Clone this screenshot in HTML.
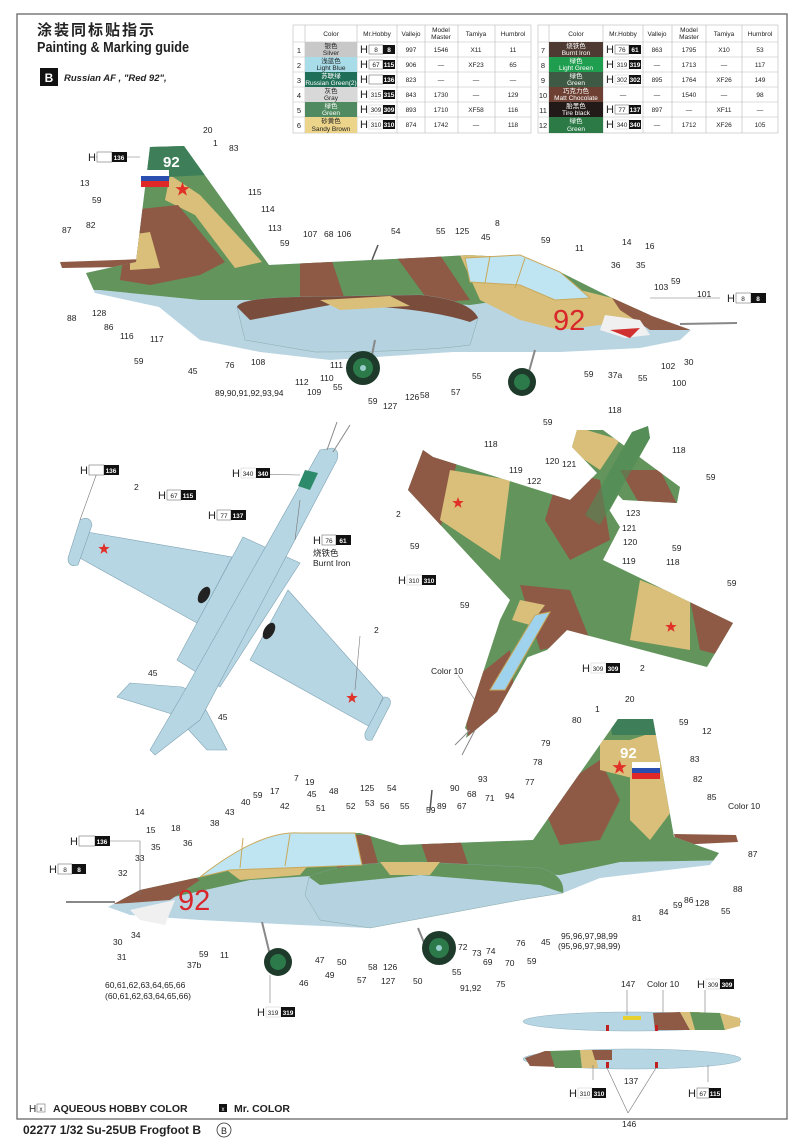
<!DOCTYPE html>
<html><head><meta charset="utf-8"><style>
html,body{margin:0;padding:0;background:#fff}
svg{display:block}
text{font-family:"Liberation Sans","Noto Sans CJK SC",sans-serif;fill:#222}
.l{font-size:8.5px}
.t{font-size:6.5px;text-anchor:middle}
.ln{stroke:#777;stroke-width:.6;fill:none}
.hb{font-size:11px}
.bx{font-size:6.5px;text-anchor:middle}
.bw{font-size:6.5px;text-anchor:middle;fill:#fff;font-weight:bold}
</style></head><body>
<svg width="800" height="1144" viewBox="0 0 800 1144" xmlns="http://www.w3.org/2000/svg">
<defs>
<symbol id="star" viewBox="-1 -1 2 2"><polygon points="0,-1 .235,-.324 .951,-.309 .38,.124 .588,.809 0,.4 -.588,.809 -.38,.124 -.951,-.309 -.235,-.324" fill="#e03028"/></symbol>
<clipPath id="c1"><path d="M150,147 L184,146 L269,265 L434,257 L469,255 L520,258 L560,272 L610,297 L652,316 L691,330 L680,340 L640,348 L560,352 L453,352 L330,360 L260,352 L200,340 L159,307 L95,293 L86,273 L136,262 Z"/></clipPath>
<clipPath id="c2"><path d="M618,719 L653,719 L674,837 L719,853 L710,865 L600,878 L563,893 L500,900 L370,928 L300,925 L200,920 L130,915 L108,907 L140,890 L200,877 L250,848 L300,833 L360,833 L400,845 L533,840 Z"/></clipPath>
<clipPath id="c3"><path d="M423,450 L433,457 L570,500 L640,430 L647,428 L640,445 L603,500 L620,527 L603,560 L733,623 L707,667 L567,630 L547,650 L520,660 L470,733 L465,728 L500,620 L510,600 L408,490 Z M577,430 L603,430 L680,487 L677,503 L623,500 L572,447 Z M466,738 L475,700 L632,432 L648,426 L650,438 L497,712 Z"/></clipPath>
</defs>

<rect x="17" y="14" width="770" height="1105" fill="none" stroke="#666" stroke-width="1.3"/>

<text x="37" y="35" style="font-size:15px;font-weight:bold;letter-spacing:2px">涂装同标贴指示</text>
<text x="37" y="52" style="font-size:15px;font-weight:bold" textLength="152" lengthAdjust="spacingAndGlyphs">Painting &amp; Marking guide</text>
<rect x="40" y="68" width="18" height="18" fill="#111"/>
<text x="49" y="82" style="font-size:12px;font-weight:bold;fill:#fff;text-anchor:middle">B</text>
<text x="64" y="81" style="font-size:9.5px;font-weight:bold;font-style:italic">Russian AF , "Red 92",</text>

<g stroke="#bbb" stroke-width=".6" fill="none">
<rect x="293" y="25" width="238" height="108"/>
<line x1="293" y1="42" x2="531" y2="42"/><line x1="293" y1="57" x2="531" y2="57"/><line x1="293" y1="72" x2="531" y2="72"/><line x1="293" y1="87" x2="531" y2="87"/><line x1="293" y1="102" x2="531" y2="102"/><line x1="293" y1="117" x2="531" y2="117"/>
<line x1="305" y1="25" x2="305" y2="133"/><line x1="357" y1="25" x2="357" y2="133"/><line x1="397" y1="25" x2="397" y2="133"/><line x1="425" y1="25" x2="425" y2="133"/><line x1="458" y1="25" x2="458" y2="133"/><line x1="495" y1="25" x2="495" y2="133"/>
<rect x="538" y="25" width="240" height="108"/>
<line x1="538" y1="42" x2="778" y2="42"/><line x1="538" y1="57" x2="778" y2="57"/><line x1="538" y1="72" x2="778" y2="72"/><line x1="538" y1="87" x2="778" y2="87"/><line x1="538" y1="102" x2="778" y2="102"/><line x1="538" y1="117" x2="778" y2="117"/>
<line x1="549" y1="25" x2="549" y2="133"/><line x1="603" y1="25" x2="603" y2="133"/><line x1="643" y1="25" x2="643" y2="133"/><line x1="672" y1="25" x2="672" y2="133"/><line x1="706" y1="25" x2="706" y2="133"/><line x1="742" y1="25" x2="742" y2="133"/>
</g>
<rect x="305" y="42" width="52" height="15" fill="#c8c8c8"/>
<rect x="305" y="57" width="52" height="15" fill="#a8dce8"/>
<rect x="305" y="72" width="52" height="15" fill="#1f6e57"/>
<rect x="305" y="87" width="52" height="15" fill="#d8d8d8"/>
<rect x="305" y="102" width="52" height="15" fill="#4f8a60"/>
<rect x="305" y="117" width="52" height="16" fill="#ecd48a"/>
<rect x="549" y="42" width="54" height="15" fill="#4e3a32"/>
<rect x="549" y="57" width="54" height="15" fill="#1e9e4e"/>
<rect x="549" y="72" width="54" height="15" fill="#3f5a44"/>
<rect x="549" y="87" width="54" height="15" fill="#6e4033"/>
<rect x="549" y="102" width="54" height="15" fill="#221a18"/>
<rect x="549" y="117" width="54" height="16" fill="#2c7a46"/>
<g class="t">
<text x="331" y="36">Color</text><text x="377" y="36">Mr.Hobby</text><text x="411" y="36">Vallejo</text><text x="441" y="32">Model</text><text x="441" y="39">Master</text><text x="476" y="36">Tamiya</text><text x="513" y="36">Humbrol</text>
<text x="576" y="36">Color</text><text x="623" y="36">Mr.Hobby</text><text x="657" y="36">Vallejo</text><text x="689" y="32">Model</text><text x="689" y="39">Master</text><text x="724" y="36">Tamiya</text><text x="760" y="36">Humbrol</text>
</g>
<g style="font-size:7.5px;text-anchor:middle">
<text x="299" y="53">1</text><text x="299" y="68">2</text><text x="299" y="83">3</text><text x="299" y="98">4</text><text x="299" y="113">5</text><text x="299" y="128">6</text>
<text x="543" y="53">7</text><text x="543" y="68">8</text><text x="543" y="83">9</text><text x="543" y="98">10</text><text x="543" y="113">11</text><text x="543" y="128">12</text>
</g>
<g class="t">
<text x="331" y="48">银色</text><text x="331" y="55">Silver</text>
<text x="331" y="63">浅蓝色</text><text x="331" y="70">Light Blue</text>
<text x="331" y="78" style="fill:#fff">苏联绿</text><text x="331" y="85" style="fill:#fff">Russian Green(2)</text>
<text x="331" y="93">灰色</text><text x="331" y="100">Gray</text>
<text x="331" y="108" style="fill:#fff">绿色</text><text x="331" y="115" style="fill:#fff">Green</text>
<text x="331" y="123">砂黄色</text><text x="331" y="131">Sandy Brown</text>
<text x="576" y="48" style="fill:#fff">烧铁色</text><text x="576" y="55" style="fill:#fff">Burnt Iron</text>
<text x="576" y="63" style="fill:#fff">绿色</text><text x="576" y="70" style="fill:#fff">Light Green</text>
<text x="576" y="78" style="fill:#fff">绿色</text><text x="576" y="85" style="fill:#fff">Green</text>
<text x="576" y="93" style="fill:#fff">巧克力色</text><text x="576" y="100" style="fill:#fff">Matt Chocolate</text>
<text x="576" y="108" style="fill:#fff">胎黑色</text><text x="576" y="115" style="fill:#fff">Tire black</text>
<text x="576" y="123" style="fill:#fff">绿色</text><text x="576" y="131" style="fill:#fff">Green</text>
<text x="411" y="52">997</text><text x="441" y="52">1546</text><text x="476" y="52">X11</text><text x="513" y="52">11</text>
<text x="411" y="67">906</text><text x="441" y="67">—</text><text x="476" y="67">XF23</text><text x="513" y="67">65</text>
<text x="411" y="82">823</text><text x="441" y="82">—</text><text x="476" y="82">—</text><text x="513" y="82">—</text>
<text x="411" y="97">843</text><text x="441" y="97">1730</text><text x="476" y="97">—</text><text x="513" y="97">129</text>
<text x="411" y="112">893</text><text x="441" y="112">1710</text><text x="476" y="112">XF58</text><text x="513" y="112">116</text>
<text x="411" y="127">874</text><text x="441" y="127">1742</text><text x="476" y="127">—</text><text x="513" y="127">118</text>
<text x="657" y="52">863</text><text x="689" y="52">1795</text><text x="724" y="52">X10</text><text x="760" y="52">53</text>
<text x="657" y="67">—</text><text x="689" y="67">1713</text><text x="724" y="67">—</text><text x="760" y="67">117</text>
<text x="657" y="82">895</text><text x="689" y="82">1764</text><text x="724" y="82">XF26</text><text x="760" y="82">149</text>
<text x="657" y="97">—</text><text x="689" y="97">1540</text><text x="724" y="97">—</text><text x="760" y="97">98</text>
<text x="657" y="112">897</text><text x="689" y="112">—</text><text x="724" y="112">XF11</text><text x="760" y="112">—</text>
<text x="657" y="127">—</text><text x="689" y="127">1712</text><text x="724" y="127">XF26</text><text x="760" y="127">105</text>
<text x="623" y="97">—</text>
</g>
<g>
<text x="360" y="53" class="hb">H</text><rect x="369" y="45" width="14" height="9" fill="#fff" stroke="#555" stroke-width=".5"/><text x="376" y="52" class="bx">8</text><rect x="383" y="45" width="12" height="9" fill="#111"/><text x="389" y="52" class="bw">8</text>
<text x="360" y="68" class="hb">H</text><rect x="369" y="60" width="14" height="9" fill="#fff" stroke="#555" stroke-width=".5"/><text x="376" y="67" class="bx">67</text><rect x="383" y="60" width="12" height="9" fill="#111"/><text x="389" y="67" class="bw">115</text>
<text x="360" y="83" class="hb">H</text><rect x="369" y="75" width="14" height="9" fill="#fff" stroke="#555" stroke-width=".5"/><rect x="383" y="75" width="12" height="9" fill="#111"/><text x="389" y="82" class="bw">136</text>
<text x="360" y="98" class="hb">H</text><rect x="369" y="90" width="14" height="9" fill="#fff" stroke="#ccc" stroke-width=".5"/><text x="376" y="97" class="bx">315</text><rect x="383" y="90" width="12" height="9" fill="#111"/><text x="389" y="97" class="bw">315</text>
<text x="360" y="113" class="hb">H</text><rect x="369" y="105" width="14" height="9" fill="#fff" stroke="#ccc" stroke-width=".5"/><text x="376" y="112" class="bx">309</text><rect x="383" y="105" width="12" height="9" fill="#111"/><text x="389" y="112" class="bw">309</text>
<text x="360" y="128" class="hb">H</text><rect x="369" y="120" width="14" height="9" fill="#fff" stroke="#ccc" stroke-width=".5"/><text x="376" y="127" class="bx">310</text><rect x="383" y="120" width="12" height="9" fill="#111"/><text x="389" y="127" class="bw">310</text>
<text x="606" y="53" class="hb">H</text><rect x="615" y="45" width="14" height="9" fill="#fff" stroke="#555" stroke-width=".5"/><text x="622" y="52" class="bx">76</text><rect x="629" y="45" width="12" height="9" fill="#111"/><text x="635" y="52" class="bw">61</text>
<text x="606" y="68" class="hb">H</text><rect x="615" y="60" width="14" height="9" fill="#fff" stroke="#ccc" stroke-width=".5"/><text x="622" y="67" class="bx">319</text><rect x="629" y="60" width="12" height="9" fill="#111"/><text x="635" y="67" class="bw">319</text>
<text x="606" y="83" class="hb">H</text><rect x="615" y="75" width="14" height="9" fill="#fff" stroke="#ccc" stroke-width=".5"/><text x="622" y="82" class="bx">302</text><rect x="629" y="75" width="12" height="9" fill="#111"/><text x="635" y="82" class="bw">302</text>
<text x="606" y="113" class="hb">H</text><rect x="615" y="105" width="14" height="9" fill="#fff" stroke="#555" stroke-width=".5"/><text x="622" y="112" class="bx">77</text><rect x="629" y="105" width="12" height="9" fill="#111"/><text x="635" y="112" class="bw">137</text>
<text x="606" y="128" class="hb">H</text><rect x="615" y="120" width="14" height="9" fill="#fff" stroke="#ccc" stroke-width=".5"/><text x="622" y="127" class="bx">340</text><rect x="629" y="120" width="12" height="9" fill="#111"/><text x="635" y="127" class="bw">340</text>
</g>

<!-- ============ TOP SIDE VIEW ============ -->
<line x1="680" y1="324" x2="737" y2="323" stroke="#888" stroke-width="2"/>
<path d="M60,262 L175,258 L180,266 L62,268 Z" fill="#8e5a46"/>
<g clip-path="url(#c1)">
<rect x="60" y="140" width="700" height="240" fill="#b9d5e2"/>
<path d="M60,140 L760,140 L760,300 L650,315 L600,300 L520,298 L470,305 L400,300 L300,305 L250,300 L200,300 L150,295 L100,290 L60,290 Z" fill="#62945c"/>
<path d="M170,175 L200,195 L262,262 L235,268 L195,215 L165,200 Z" fill="#d9bf79"/>
<path d="M130,210 L178,205 L225,262 L200,275 L150,285 L120,280 Z" fill="#8e5a46"/>
<path d="M130,235 L150,232 L160,268 L130,270 Z" fill="#d9bf79"/>
<path d="M300,255 L330,255 L345,300 L300,305 Z" fill="#8e5a46"/>
<path d="M395,255 L440,255 L470,300 L430,303 Z" fill="#8e5a46"/>
<path d="M460,255 L520,255 L580,290 L640,305 L640,320 L560,330 L520,320 L480,300 Z" fill="#d9bf79"/>
<path d="M600,280 L660,310 L690,330 L650,330 L620,310 Z" fill="#8e5a46"/>
<path d="M140,145 L190,145 L205,175 L150,178 Z" fill="#3e7f5a"/>
</g>
<path d="M237,307 Q240,298 300,297 L420,295 Q470,300 478,318 L470,345 Q420,352 315,352 L245,340 Z" fill="#b5d2e0" stroke="#8aa" stroke-width=".5"/>
<path d="M237,307 Q240,298 300,297 L420,295 Q470,300 478,318 L470,322 Q420,306 330,305 L250,320 Z" fill="#7a4c3c"/>
<path d="M320,300 L390,296 L410,306 L340,310 Z" fill="#d9bf79"/>
<path d="M465,258 L520,255 L560,272 L590,298 L555,300 L520,285 L470,282 Z" fill="#bfe4f2" stroke="#c9a95a" stroke-width="1"/>
<line x1="490" y1="256" x2="485" y2="283" stroke="#c9a95a"/><line x1="525" y1="258" x2="515" y2="288" stroke="#c9a95a"/>
<line x1="372" y1="260" x2="378" y2="245" stroke="#555" stroke-width="1.5"/>
<text x="553" y="330" style="font-size:29px;fill:#d8262a">92</text>
<text x="163" y="167" style="font-size:15px;fill:#fff;font-weight:bold">92</text>
<rect x="141" y="170" width="28" height="6" fill="#fff"/><rect x="141" y="176" width="28" height="5" fill="#2a4db0"/><rect x="141" y="181" width="28" height="6" fill="#e02828"/>
<use href="#star" x="175" y="182" width="15" height="15"/>
<path d="M605,315 L640,320 L650,335 L625,338 L600,330 Z" fill="#f0f0f0"/><path d="M610,330 L640,328 L630,338 Z" fill="#d03030"/>
<line x1="375" y1="340" x2="370" y2="365" stroke="#888" stroke-width="2"/>
<circle cx="363" cy="368" r="17" fill="#1d3a2a"/><circle cx="363" cy="368" r="10" fill="#2c7a4a"/><circle cx="363" cy="368" r="3" fill="#9cc"/>
<line x1="535" y1="350" x2="528" y2="375" stroke="#888" stroke-width="2"/>
<circle cx="522" cy="382" r="14" fill="#1d3a2a"/><circle cx="522" cy="382" r="8" fill="#2c7a4a"/>

<!-- ============ PLAN (LOWER) VIEW ============ -->
<g fill="#b7d6e3" stroke="#7fa3b4" stroke-width=".6">
<path d="M87,532 L232,557 L197,623 L78,557 Z"/>
<path d="M288,590 L383,697 L370,727 L250,660 Z"/>
<path d="M117,697 L130,683 L182,687 L197,693 L227,750 L207,750 L175,715 Z"/>
<path d="M243,537 L300,563 L220,687 L177,660 Z"/>
<path d="M332,448 Q340,450 337,460 L200,720 L155,755 L150,750 L185,690 L320,450 Z"/>
<path d="M80,520 Q90,515 92,525 L78,565 Q68,568 68,558 Z"/>
<path d="M384,697 Q392,697 390,705 L372,740 Q364,742 365,733 Z"/>
</g>
<line x1="327" y1="450" x2="337" y2="422" stroke="#888"/><line x1="333" y1="452" x2="350" y2="425" stroke="#888"/>
<path d="M305,470 L318,473 L310,490 L298,486 Z" fill="#2d8a6a"/>
<ellipse cx="204" cy="595" rx="5" ry="9" transform="rotate(30 204 595)" fill="#222"/>
<ellipse cx="269" cy="631" rx="5" ry="9" transform="rotate(30 269 631)" fill="#222"/>
<use href="#star" x="98" y="543" width="12" height="12"/>
<use href="#star" x="346" y="692" width="12" height="12"/>

<!-- ============ TOP VIEW (RIGHT) ============ -->
<g clip-path="url(#c3)">
<rect x="400" y="420" width="340" height="320" fill="#62945c"/>
<path d="M400,440 L460,450 L440,530 L400,520 Z" fill="#8e5a46"/>
<path d="M450,470 L510,480 L500,560 L440,520 Z" fill="#d9bf79"/>
<path d="M570,425 L620,440 L600,470 L570,450 Z" fill="#d9bf79"/>
<path d="M620,470 L660,470 L680,510 L640,505 Z" fill="#8e5a46"/>
<path d="M560,470 L600,480 L610,540 L570,560 L545,520 Z" fill="#8e5a46"/>
<path d="M520,585 L570,590 L590,640 L540,650 Z" fill="#8e5a46"/>
<path d="M640,580 L690,600 L690,650 L630,640 Z" fill="#d9bf79"/>
<path d="M690,600 L740,610 L740,660 L700,650 Z" fill="#8e5a46"/>
<path d="M460,690 L510,650 L515,700 L470,745 Z" fill="#8e5a46"/>
<path d="M520,600 L545,605 L530,625 L512,620 Z" fill="#d9bf79"/>
</g>
<path d="M632,432 L648,426 L650,438 L600,525 L585,515 Z" fill="#4e8a55" opacity=".6"/>
<path d="M535,615 L550,612 L505,690 L490,690 Z" fill="#9fd2ec" stroke="#c9a95a"/>
<line x1="475" y1="730" x2="462" y2="755" stroke="#888"/><line x1="470" y1="730" x2="455" y2="745" stroke="#888"/>
<use href="#star" x="452" y="497" width="12" height="12"/>
<use href="#star" x="665" y="621" width="12" height="12"/>

<!-- ============ BOTTOM SIDE VIEW ============ -->
<line x1="66" y1="902" x2="115" y2="902" stroke="#888" stroke-width="2"/>
<path d="M674,834 L736,835 L738,842 L676,845 Z" fill="#8e5a46"/>
<g clip-path="url(#c2)">
<rect x="100" y="710" width="640" height="230" fill="#b9d5e2"/>
<path d="M100,710 L740,710 L740,860 L620,862 L560,875 L400,870 L250,880 L160,900 L100,900 Z" fill="#62945c"/>
<path d="M100,860 L200,850 L240,880 L300,875 L330,840 L200,840 Z" fill="#d9bf79"/>
<path d="M100,880 L160,860 L200,880 L170,900 L100,905 Z" fill="#8e5a46"/>
<path d="M330,835 L370,835 L380,870 L340,880 Z" fill="#8e5a46"/>
<path d="M420,840 L460,840 L470,870 L430,870 Z" fill="#8e5a46"/>
<path d="M540,800 L600,760 L620,800 L600,840 L560,845 Z" fill="#8e5a46"/>
<path d="M630,740 L660,730 L680,800 L650,840 L630,820 Z" fill="#d9bf79"/>
<path d="M600,740 L650,740 L640,780 L600,770 Z" fill="#d9bf79"/>
<path d="M610,719 L660,719 L660,735 L612,735 Z" fill="#3e7f5a"/>
</g>
<path d="M309,877 Q340,862 420,862 L540,868 Q565,875 563,893 L520,900 L370,928 L320,920 L305,895 Z" fill="#b5d2e0" stroke="#8aa" stroke-width=".5"/>
<path d="M309,877 Q340,862 420,862 L540,868 Q565,875 563,893 L540,885 L420,875 L320,885 Z" fill="#62945c"/>
<path d="M380,862 L440,862 L430,875 L390,875 Z" fill="#d9bf79"/>
<path d="M200,877 Q260,830 300,833 L355,833 L362,865 L230,870 Z" fill="#bfe4f2" stroke="#c9a95a"/>
<line x1="243" y1="838" x2="240" y2="868" stroke="#c9a95a"/><line x1="290" y1="834" x2="285" y2="866" stroke="#c9a95a"/>
<text x="178" y="910" style="font-size:29px;fill:#d8262a">92</text>
<text x="620" y="758" style="font-size:15px;fill:#fff;font-weight:bold">92</text>
<rect x="632" y="762" width="28" height="6" fill="#fff"/><rect x="632" y="768" width="28" height="5" fill="#2a4db0"/><rect x="632" y="773" width="28" height="6" fill="#e02828"/>
<use href="#star" x="612" y="760" width="15" height="15"/>
<path d="M130,910 L175,900 L165,925 L140,920 Z" fill="#f0f0f0"/>
<line x1="430" y1="810" x2="432" y2="790" stroke="#555" stroke-width="1.5"/>
<line x1="418" y1="928" x2="425" y2="945" stroke="#888" stroke-width="2"/>
<circle cx="439" cy="948" r="17" fill="#1d3a2a"/><circle cx="439" cy="948" r="10" fill="#2c7a4a"/><circle cx="439" cy="948" r="3" fill="#9cc"/>
<line x1="262" y1="922" x2="270" y2="955" stroke="#888" stroke-width="2"/>
<circle cx="278" cy="962" r="14" fill="#1d3a2a"/><circle cx="278" cy="962" r="8" fill="#2c7a4a"/>

<!-- drop tanks -->
<ellipse cx="632" cy="1021.5" rx="109" ry="9.5" fill="#b7d6e3" stroke="#8fb0c0" stroke-width=".5"/>
<path d="M653,1013 L680,1012 L690,1030 L655,1030 Z" fill="#8e5a46"/><path d="M680,1012 L700,1012 L700,1030 L690,1030 Z" fill="#d9bf79"/><path d="M690,1012 L720,1013 L725,1030 L695,1030 Z" fill="#62945c"/><path d="M720,1013 L740,1018 L740,1026 L725,1030 Z" fill="#d9bf79"/>
<rect x="623" y="1016" width="18" height="4" fill="#e8d030"/>
<rect x="606" y="1025" width="3" height="6" fill="#c02020"/><rect x="655" y="1025" width="3" height="6" fill="#c02020"/>
<ellipse cx="632" cy="1059" rx="109" ry="10" fill="#b7d6e3" stroke="#8fb0c0" stroke-width=".5"/>
<path d="M525,1058 L545,1051 L555,1051 L560,1067 L530,1066 Z" fill="#8e5a46"/><path d="M550,1051 L580,1050 L582,1068 L555,1068 Z" fill="#62945c"/><path d="M580,1050 L595,1050 L598,1068 L582,1068 Z" fill="#d9bf79"/><path d="M592,1050 L612,1050 L612,1060 L595,1060 Z" fill="#8e5a46"/>
<rect x="606" y="1062" width="3" height="6" fill="#c02020"/><rect x="655" y="1062" width="3" height="6" fill="#c02020"/>

<g class="ln">
<line x1="96" y1="157" x2="140" y2="157"/><line x1="650" y1="298" x2="720" y2="298"/>
<line x1="98" y1="470" x2="80" y2="520"/><line x1="246" y1="474" x2="300" y2="475"/><line x1="300" y1="500" x2="295" y2="540"/>
<line x1="360" y1="636" x2="355" y2="690"/><line x1="458" y1="675" x2="475" y2="700"/>
<line x1="92" y1="841" x2="140" y2="841"/><line x1="140" y1="841" x2="140" y2="895"/>
<line x1="270" y1="1003" x2="270" y2="975"/>
<line x1="627" y1="990" x2="627" y2="1015"/><line x1="663" y1="990" x2="663" y2="1013"/><line x1="705" y1="990" x2="705" y2="1013"/>
<line x1="593" y1="1080" x2="593" y2="1065"/><line x1="628" y1="1113" x2="607" y2="1068"/><line x1="628" y1="1113" x2="656" y2="1068"/><line x1="708" y1="1082" x2="708" y2="1065"/>
</g>

<g class="l">
<text x="203" y="133">20</text><text x="213" y="146">1</text><text x="229" y="151">83</text><text x="80" y="186">13</text><text x="92" y="203">59</text>
<text x="248" y="195">115</text><text x="261" y="212">114</text><text x="268" y="231">113</text><text x="62" y="233">87</text><text x="86" y="228">82</text>
<text x="280" y="246">59</text><text x="303" y="237">107</text><text x="324" y="237">68</text><text x="337" y="237">106</text><text x="391" y="234">54</text>
<text x="436" y="234">55</text><text x="455" y="234">125</text><text x="481" y="240">45</text><text x="495" y="226">8</text><text x="541" y="243">59</text>
<text x="575" y="251">11</text><text x="622" y="245">14</text><text x="645" y="249">16</text><text x="611" y="268">36</text><text x="636" y="268">35</text>
<text x="654" y="290">103</text><text x="671" y="284">59</text><text x="697" y="297">101</text>
<text x="67" y="321">88</text><text x="92" y="316">128</text><text x="104" y="330">86</text><text x="120" y="339">116</text><text x="150" y="342">117</text>
<text x="134" y="364">59</text><text x="188" y="374">45</text><text x="225" y="368">76</text><text x="251" y="365">108</text><text x="330" y="368">111</text>
<text x="320" y="381">110</text><text x="333" y="390">55</text><text x="295" y="385">112</text><text x="307" y="395">109</text><text x="215" y="396">89,90,91,92,93,94</text>
<text x="368" y="404">59</text><text x="383" y="409">127</text><text x="405" y="400">126</text><text x="420" y="398">58</text><text x="451" y="395">57</text>
<text x="472" y="379">55</text><text x="584" y="377">59</text><text x="608" y="378">37a</text><text x="638" y="381">55</text><text x="661" y="369">102</text><text x="684" y="365">30</text><text x="672" y="386">100</text>
</g>
<g class="l">
<text x="134" y="490">2</text><text x="374" y="633">2</text><text x="148" y="676">45</text><text x="218" y="720">45</text>
<text x="313" y="556">烧铁色</text><text x="313" y="566">Burnt Iron</text>
<text x="608" y="413">118</text><text x="543" y="425">59</text><text x="484" y="447">118</text><text x="672" y="453">118</text><text x="509" y="473">119</text>
<text x="545" y="464">120</text><text x="562" y="467">121</text><text x="527" y="484">122</text><text x="706" y="480">59</text><text x="396" y="517">2</text>
<text x="626" y="516">123</text><text x="622" y="531">121</text><text x="623" y="545">120</text><text x="410" y="549">59</text><text x="622" y="564">119</text>
<text x="672" y="551">59</text><text x="666" y="565">118</text><text x="727" y="586">59</text><text x="460" y="608">59</text><text x="640" y="671">2</text>
<text x="431" y="674">Color 10</text>
</g>
<g class="l">
<text x="625" y="702">20</text><text x="595" y="712">1</text><text x="679" y="725">59</text><text x="572" y="723">80</text><text x="702" y="734">12</text>
<text x="541" y="746">79</text><text x="533" y="765">78</text><text x="690" y="762">83</text><text x="693" y="782">82</text><text x="707" y="800">85</text>
<text x="728" y="809">Color 10</text><text x="748" y="857">87</text><text x="733" y="892">88</text><text x="721" y="914">55</text><text x="695" y="906">128</text>
<text x="684" y="903">86</text><text x="673" y="908">59</text><text x="659" y="915">84</text><text x="632" y="921">81</text><text x="525" y="785">77</text>
<text x="505" y="799">94</text><text x="294" y="781">7</text><text x="305" y="785">19</text><text x="329" y="794">48</text><text x="360" y="791">125</text>
<text x="387" y="791">54</text><text x="307" y="797">45</text><text x="316" y="811">51</text><text x="346" y="809">52</text><text x="365" y="806">53</text>
<text x="380" y="809">56</text><text x="400" y="809">55</text><text x="426" y="813">59</text><text x="437" y="809">89</text><text x="457" y="809">67</text>
<text x="450" y="791">90</text><text x="467" y="797">68</text><text x="478" y="782">93</text><text x="485" y="801">71</text><text x="270" y="794">17</text>
<text x="253" y="798">59</text><text x="241" y="805">40</text><text x="280" y="809">42</text><text x="225" y="815">43</text><text x="210" y="826">38</text>
<text x="135" y="815">14</text><text x="171" y="831">18</text><text x="146" y="833">15</text><text x="151" y="850">35</text><text x="183" y="846">36</text>
<text x="135" y="861">33</text><text x="118" y="876">32</text>
<text x="113" y="945">30</text><text x="131" y="938">34</text><text x="117" y="960">31</text><text x="199" y="957">59</text><text x="187" y="968">37b</text>
<text x="220" y="958">11</text><text x="105" y="988">60,61,62,63,64,65,66</text><text x="105" y="999">(60,61,62,63,64,65,66)</text>
<text x="299" y="986">46</text><text x="315" y="963">47</text><text x="325" y="978">49</text><text x="337" y="965">50</text><text x="357" y="983">57</text>
<text x="368" y="970">58</text><text x="383" y="970">126</text><text x="381" y="984">127</text><text x="413" y="984">50</text><text x="452" y="975">55</text>
<text x="458" y="950">72</text><text x="472" y="956">73</text><text x="486" y="954">74</text><text x="483" y="965">69</text><text x="505" y="966">70</text>
<text x="496" y="987">75</text><text x="516" y="946">76</text><text x="527" y="964">59</text><text x="541" y="945">45</text><text x="460" y="991">91,92</text>
<text x="561" y="939">95,96,97,98,99</text><text x="558" y="949">(95,96,97,98,99)</text>
<text x="621" y="987">147</text><text x="647" y="987">Color 10</text><text x="622" y="1127">146</text><text x="624" y="1084">137</text>
</g>

<g>
<text x="88" y="161" class="hb">H</text><rect x="97" y="152" width="15" height="10" fill="#fff" stroke="#555" stroke-width=".5"/><rect x="112" y="152" width="15" height="10" fill="#111"/><text x="119" y="160" class="bw">136</text>
<text x="727" y="302" class="hb">H</text><rect x="736" y="293" width="15" height="10" fill="#fff" stroke="#555" stroke-width=".5"/><text x="743" y="301" class="bx">8</text><rect x="751" y="293" width="15" height="10" fill="#111"/><text x="758" y="301" class="bw">8</text>
<text x="80" y="474" class="hb">H</text><rect x="89" y="465" width="15" height="10" fill="#fff" stroke="#555" stroke-width=".5"/><rect x="104" y="465" width="15" height="10" fill="#111"/><text x="111" y="473" class="bw">136</text>
<text x="158" y="499" class="hb">H</text><rect x="167" y="490" width="14" height="10" fill="#fff" stroke="#555" stroke-width=".5"/><text x="174" y="498" class="bx">67</text><rect x="181" y="490" width="15" height="10" fill="#111"/><text x="188" y="498" class="bw">115</text>
<text x="208" y="519" class="hb">H</text><rect x="217" y="510" width="14" height="10" fill="#fff" stroke="#555" stroke-width=".5"/><text x="224" y="518" class="bx">77</text><rect x="231" y="510" width="15" height="10" fill="#111"/><text x="238" y="518" class="bw">137</text>
<text x="232" y="477" class="hb">H</text><rect x="241" y="468" width="15" height="10" fill="#fff" stroke="#ccc" stroke-width=".5"/><text x="248" y="476" class="bx">340</text><rect x="256" y="468" width="14" height="10" fill="#111"/><text x="263" y="476" class="bw">340</text>
<text x="313" y="544" class="hb">H</text><rect x="322" y="535" width="14" height="10" fill="#fff" stroke="#555" stroke-width=".5"/><text x="329" y="543" class="bx">76</text><rect x="336" y="535" width="15" height="10" fill="#111"/><text x="343" y="543" class="bw">61</text>
<text x="398" y="584" class="hb">H</text><rect x="407" y="575" width="15" height="10" fill="#fff" stroke="#ccc" stroke-width=".5"/><text x="414" y="583" class="bx">310</text><rect x="422" y="575" width="14" height="10" fill="#111"/><text x="429" y="583" class="bw">310</text>
<text x="582" y="672" class="hb">H</text><rect x="591" y="663" width="15" height="10" fill="#fff" stroke="#ccc" stroke-width=".5"/><text x="598" y="671" class="bx">309</text><rect x="606" y="663" width="14" height="10" fill="#111"/><text x="613" y="671" class="bw">309</text>
<text x="70" y="845" class="hb">H</text><rect x="79" y="836" width="16" height="10" fill="#fff" stroke="#555" stroke-width=".5"/><rect x="95" y="836" width="15" height="10" fill="#111"/><text x="102" y="844" class="bw">136</text>
<text x="49" y="873" class="hb">H</text><rect x="58" y="864" width="14" height="10" fill="#fff" stroke="#555" stroke-width=".5"/><text x="65" y="872" class="bx">8</text><rect x="72" y="864" width="14" height="10" fill="#111"/><text x="79" y="872" class="bw">8</text>
<text x="257" y="1016" class="hb">H</text><rect x="266" y="1007" width="15" height="10" fill="#fff" stroke="#ccc" stroke-width=".5"/><text x="273" y="1015" class="bx">319</text><rect x="281" y="1007" width="14" height="10" fill="#111"/><text x="288" y="1015" class="bw">319</text>
<text x="697" y="988" class="hb">H</text><rect x="706" y="979" width="14" height="10" fill="#fff" stroke="#ccc" stroke-width=".5"/><text x="713" y="987" class="bx">309</text><rect x="720" y="979" width="14" height="10" fill="#111"/><text x="727" y="987" class="bw">309</text>
<text x="569" y="1097" class="hb">H</text><rect x="578" y="1088" width="14" height="10" fill="#fff" stroke="#ccc" stroke-width=".5"/><text x="585" y="1096" class="bx">310</text><rect x="592" y="1088" width="14" height="10" fill="#111"/><text x="599" y="1096" class="bw">310</text>
<text x="688" y="1097" class="hb">H</text><rect x="697" y="1088" width="12" height="10" fill="#fff" stroke="#555" stroke-width=".5"/><text x="703" y="1096" class="bx">67</text><rect x="709" y="1088" width="12" height="10" fill="#111"/><text x="715" y="1096" class="bw">115</text>
</g>

<text x="29" y="1112" style="font-size:10px">H</text><rect x="37" y="1104" width="8" height="8" fill="#fff" stroke="#555" stroke-width=".5"/><text x="41" y="1111" style="font-size:6px;text-anchor:middle">x</text>
<text x="53" y="1112" style="font-size:10.5px;font-weight:bold">AQUEOUS HOBBY COLOR</text>
<rect x="219" y="1104" width="8" height="8" fill="#111"/><text x="223" y="1111" style="font-size:6px;text-anchor:middle;fill:#fff">x</text>
<text x="234" y="1112" style="font-size:10.5px;font-weight:bold">Mr. COLOR</text>
<text x="23" y="1134" style="font-size:12px;font-weight:bold">02277 1/32 Su-25UB Frogfoot B</text>
<circle cx="224" cy="1130" r="7" fill="none" stroke="#333" stroke-width=".8"/><text x="224" y="1134" style="font-size:9px;text-anchor:middle">B</text>
</svg>
</body></html>
